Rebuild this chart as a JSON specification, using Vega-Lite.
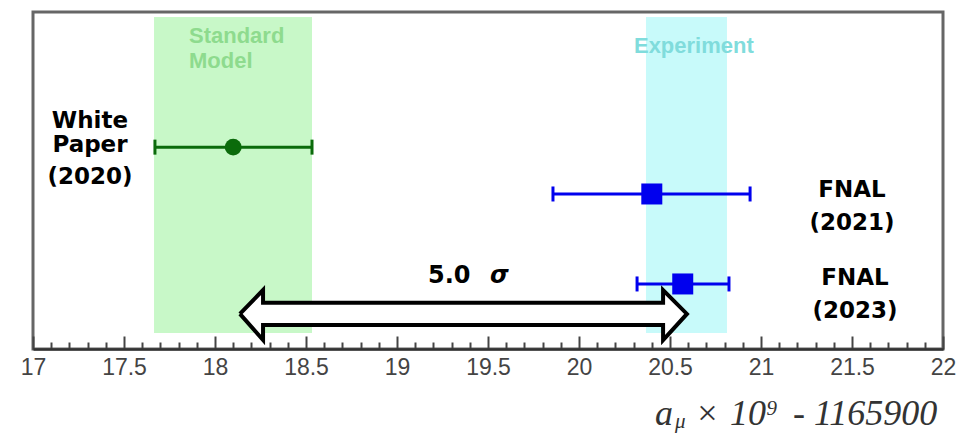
{
  "$schema": "https://vega.github.io/schema/vega-lite/v6.json",
  "width": 910,
  "height": 337,
  "autosize": {"type": "none"},
  "padding": {"left": 33, "top": 12, "right": 18, "bottom": 84},
  "background": "white",
  "config": {
    "view": {"stroke": "#666666", "strokeWidth": 3},
    "axisX": {
      "grid": false,
      "domainColor": "#333333",
      "domainWidth": 2.5,
      "tickColor": "#444444",
      "tickWidth": 2,
      "labelFont": "Liberation Sans",
      "labelFontSize": 23,
      "labelColor": "#444444",
      "labelPadding": 20,
      "labelOverlap": false,
      "labelFlush": false
    }
  },
  "datasets": {
    "bands": [
      {"band": "Standard Model", "x1": 17.665, "x2": 18.533, "y1": 0.475, "y2": 9.85},
      {"band": "Experiment", "x1": 20.368, "x2": 20.813, "y1": 0.475, "y2": 9.85}
    ],
    "bandLabels": [
      {"text": "Standard", "band": "Standard Model", "x": 17.857, "y": 9.07},
      {"text": "Model", "band": "Standard Model", "x": 17.857, "y": 8.35},
      {"text": "Experiment", "band": "Experiment", "x": 20.302, "y": 8.78}
    ],
    "measurements": [
      {"name": "White Paper (2020)", "group": "SM", "value": 18.10, "lo": 17.67, "hi": 18.533, "row": 5.99},
      {"name": "FNAL (2021)", "group": "FNAL", "value": 20.40, "lo": 19.857, "hi": 20.94, "row": 4.6},
      {"name": "FNAL (2023)", "group": "FNAL", "value": 20.57, "lo": 20.319, "hi": 20.824, "row": 1.93}
    ],
    "arrow": [
      {"ord": 1, "x": 18.137, "y": 1.04},
      {"ord": 2, "x": 18.264, "y": 1.75},
      {"ord": 3, "x": 18.264, "y": 1.374},
      {"ord": 4, "x": 20.462, "y": 1.374},
      {"ord": 5, "x": 20.462, "y": 1.75},
      {"ord": 6, "x": 20.593, "y": 1.04},
      {"ord": 7, "x": 20.462, "y": 0.267},
      {"ord": 8, "x": 20.462, "y": 0.712},
      {"ord": 9, "x": 18.264, "y": 0.712},
      {"ord": 10, "x": 18.264, "y": 0.267},
      {"ord": 11, "x": 18.137, "y": 1.04}
    ],
    "rowLabels": [
      {"text": "White", "x": 17.313, "y": 6.558},
      {"text": "Paper", "x": 17.313, "y": 5.846},
      {"text": "(2020)", "x": 17.313, "y": 4.896},
      {"text": "FNAL", "x": 21.5, "y": 4.51},
      {"text": "(2021)", "x": 21.5, "y": 3.531},
      {"text": "FNAL", "x": 21.516, "y": 1.899},
      {"text": "(2023)", "x": 21.516, "y": 0.92}
    ],
    "titleBig": [
      {"text": "a", "x": 20.418, "y": -2.255},
      {"text": "×", "x": 20.637, "y": -2.255},
      {"text": "10", "x": 20.83, "y": -2.255},
      {"text": "- 1165900", "x": 21.176, "y": -2.255}
    ],
    "titleSmall": [
      {"text": "μ", "x": 20.527, "y": -2.33},
      {"text": "9", "x": 21.03, "y": -1.96}
    ]
  },
  "resolve": {"scale": {"color": "independent"}},
  "layer": [
    {
      "data": {"name": "bands"},
      "mark": {"type": "rect"},
      "encoding": {
        "x": {
          "field": "x1", "type": "quantitative",
          "scale": {"domain": [17, 22], "nice": false, "zero": false},
          "axis": {"title": null, "values": [17, 17.1, 17.2, 17.3, 17.4, 17.5, 17.6, 17.7, 17.8, 17.9, 18, 18.1, 18.2, 18.3, 18.4, 18.5, 18.6, 18.7, 18.8, 18.9, 19, 19.1, 19.2, 19.3, 19.4, 19.5, 19.6, 19.7, 19.8, 19.9, 20, 20.1, 20.2, 20.3, 20.4, 20.5, 20.6, 20.7, 20.8, 20.9, 21, 21.1, 21.2, 21.3, 21.4, 21.5, 21.6, 21.7, 21.8, 21.9, 22], "tickSize": {"condition": {"test": "abs(datum.value*2 - round(datum.value*2)) < 0.001", "value": -13}, "value": -7}, "labelExpr": "abs(datum.value*2 - round(datum.value*2)) < 0.001 ? format(datum.value, '~g') : ''"}
        },
        "x2": {"field": "x2"},
        "y": {"field": "y1", "type": "quantitative", "scale": {"domain": [0, 10], "nice": false, "zero": false}, "axis": null},
        "y2": {"field": "y2"},
        "color": {"field": "band", "type": "nominal", "scale": {"domain": ["Standard Model", "Experiment"], "range": ["#c8f8c8", "#c8fafa"]}, "legend": null}
      }
    },
    {
      "data": {"name": "bandLabels"},
      "mark": {"type": "text", "align": "left", "baseline": "alphabetic", "font": "Liberation Sans", "fontWeight": "bold", "fontSize": 22},
      "encoding": {
        "x": {"field": "x", "type": "quantitative", "axis": {"title": null, "values": [17, 17.1, 17.2, 17.3, 17.4, 17.5, 17.6, 17.7, 17.8, 17.9, 18, 18.1, 18.2, 18.3, 18.4, 18.5, 18.6, 18.7, 18.8, 18.9, 19, 19.1, 19.2, 19.3, 19.4, 19.5, 19.6, 19.7, 19.8, 19.9, 20, 20.1, 20.2, 20.3, 20.4, 20.5, 20.6, 20.7, 20.8, 20.9, 21, 21.1, 21.2, 21.3, 21.4, 21.5, 21.6, 21.7, 21.8, 21.9, 22], "tickSize": {"condition": {"test": "abs(datum.value*2 - round(datum.value*2)) < 0.001", "value": -13}, "value": -7}, "labelExpr": "abs(datum.value*2 - round(datum.value*2)) < 0.001 ? format(datum.value, '~g') : ''"}},
        "y": {"field": "y", "type": "quantitative", "axis": null},
        "text": {"field": "text"},
        "color": {"field": "band", "type": "nominal", "scale": {"domain": ["Standard Model", "Experiment"], "range": ["#8edb8e", "#80dcdc"]}, "legend": null}
      }
    },
    {
      "data": {"name": "measurements"},
      "mark": {"type": "rule", "strokeWidth": 3},
      "encoding": {
        "x": {"field": "lo", "type": "quantitative", "axis": {"title": null, "values": [17, 17.1, 17.2, 17.3, 17.4, 17.5, 17.6, 17.7, 17.8, 17.9, 18, 18.1, 18.2, 18.3, 18.4, 18.5, 18.6, 18.7, 18.8, 18.9, 19, 19.1, 19.2, 19.3, 19.4, 19.5, 19.6, 19.7, 19.8, 19.9, 20, 20.1, 20.2, 20.3, 20.4, 20.5, 20.6, 20.7, 20.8, 20.9, 21, 21.1, 21.2, 21.3, 21.4, 21.5, 21.6, 21.7, 21.8, 21.9, 22], "tickSize": {"condition": {"test": "abs(datum.value*2 - round(datum.value*2)) < 0.001", "value": -13}, "value": -7}, "labelExpr": "abs(datum.value*2 - round(datum.value*2)) < 0.001 ? format(datum.value, '~g') : ''"}},
        "x2": {"field": "hi"},
        "y": {"field": "row", "type": "quantitative", "axis": null},
        "color": {"field": "group", "type": "nominal", "scale": {"domain": ["SM", "FNAL"], "range": ["#0b6b0b", "#0000ee"]}, "legend": null}
      }
    },
    {
      "data": {"name": "measurements"},
      "transform": [{"fold": ["lo", "hi"], "as": ["end", "xend"]}],
      "mark": {"type": "tick", "orient": "vertical", "size": 15, "thickness": 3, "opacity": 1},
      "encoding": {
        "x": {"field": "xend", "type": "quantitative", "axis": {"title": null, "values": [17, 17.1, 17.2, 17.3, 17.4, 17.5, 17.6, 17.7, 17.8, 17.9, 18, 18.1, 18.2, 18.3, 18.4, 18.5, 18.6, 18.7, 18.8, 18.9, 19, 19.1, 19.2, 19.3, 19.4, 19.5, 19.6, 19.7, 19.8, 19.9, 20, 20.1, 20.2, 20.3, 20.4, 20.5, 20.6, 20.7, 20.8, 20.9, 21, 21.1, 21.2, 21.3, 21.4, 21.5, 21.6, 21.7, 21.8, 21.9, 22], "tickSize": {"condition": {"test": "abs(datum.value*2 - round(datum.value*2)) < 0.001", "value": -13}, "value": -7}, "labelExpr": "abs(datum.value*2 - round(datum.value*2)) < 0.001 ? format(datum.value, '~g') : ''"}},
        "y": {"field": "row", "type": "quantitative", "axis": null},
        "color": {"field": "group", "type": "nominal", "scale": {"domain": ["SM", "FNAL"], "range": ["#0b6b0b", "#0000ee"]}, "legend": null}
      }
    },
    {
      "data": {"name": "measurements"},
      "mark": {"type": "point", "filled": true, "opacity": 1},
      "encoding": {
        "x": {"field": "value", "type": "quantitative", "axis": {"title": null, "values": [17, 17.1, 17.2, 17.3, 17.4, 17.5, 17.6, 17.7, 17.8, 17.9, 18, 18.1, 18.2, 18.3, 18.4, 18.5, 18.6, 18.7, 18.8, 18.9, 19, 19.1, 19.2, 19.3, 19.4, 19.5, 19.6, 19.7, 19.8, 19.9, 20, 20.1, 20.2, 20.3, 20.4, 20.5, 20.6, 20.7, 20.8, 20.9, 21, 21.1, 21.2, 21.3, 21.4, 21.5, 21.6, 21.7, 21.8, 21.9, 22], "tickSize": {"condition": {"test": "abs(datum.value*2 - round(datum.value*2)) < 0.001", "value": -13}, "value": -7}, "labelExpr": "abs(datum.value*2 - round(datum.value*2)) < 0.001 ? format(datum.value, '~g') : ''"}},
        "y": {"field": "row", "type": "quantitative", "axis": null},
        "color": {"field": "group", "type": "nominal", "scale": {"domain": ["SM", "FNAL"], "range": ["#0b6b0b", "#0000ee"]}, "legend": null},
        "shape": {"field": "group", "type": "nominal", "scale": {"domain": ["SM", "FNAL"], "range": ["circle", "square"]}, "legend": null},
        "size": {"field": "group", "type": "ordinal", "scale": {"domain": ["SM", "FNAL"], "range": [285, 441]}, "legend": null}
      }
    },
    {
      "data": {"name": "arrow"},
      "mark": {"type": "line", "fill": "white", "stroke": "black", "strokeWidth": 4, "strokeJoin": "miter", "strokeMiterLimit": 10},
      "encoding": {
        "x": {"field": "x", "type": "quantitative", "axis": {"title": null, "values": [17, 17.1, 17.2, 17.3, 17.4, 17.5, 17.6, 17.7, 17.8, 17.9, 18, 18.1, 18.2, 18.3, 18.4, 18.5, 18.6, 18.7, 18.8, 18.9, 19, 19.1, 19.2, 19.3, 19.4, 19.5, 19.6, 19.7, 19.8, 19.9, 20, 20.1, 20.2, 20.3, 20.4, 20.5, 20.6, 20.7, 20.8, 20.9, 21, 21.1, 21.2, 21.3, 21.4, 21.5, 21.6, 21.7, 21.8, 21.9, 22], "tickSize": {"condition": {"test": "abs(datum.value*2 - round(datum.value*2)) < 0.001", "value": -13}, "value": -7}, "labelExpr": "abs(datum.value*2 - round(datum.value*2)) < 0.001 ? format(datum.value, '~g') : ''"}},
        "y": {"field": "y", "type": "quantitative", "axis": null},
        "order": {"field": "ord", "type": "quantitative"}
      }
    },
    {
      "data": {"values": [{"text": "5.0", "x": 19.17, "y": 1.958}]},
      "mark": {"type": "text", "align": "left", "baseline": "alphabetic", "font": "DejaVu Sans", "fontWeight": "bold", "fontSize": 24, "color": "black"},
      "encoding": {
        "x": {"field": "x", "type": "quantitative", "axis": {"title": null, "values": [17, 17.1, 17.2, 17.3, 17.4, 17.5, 17.6, 17.7, 17.8, 17.9, 18, 18.1, 18.2, 18.3, 18.4, 18.5, 18.6, 18.7, 18.8, 18.9, 19, 19.1, 19.2, 19.3, 19.4, 19.5, 19.6, 19.7, 19.8, 19.9, 20, 20.1, 20.2, 20.3, 20.4, 20.5, 20.6, 20.7, 20.8, 20.9, 21, 21.1, 21.2, 21.3, 21.4, 21.5, 21.6, 21.7, 21.8, 21.9, 22], "tickSize": {"condition": {"test": "abs(datum.value*2 - round(datum.value*2)) < 0.001", "value": -13}, "value": -7}, "labelExpr": "abs(datum.value*2 - round(datum.value*2)) < 0.001 ? format(datum.value, '~g') : ''"}},
        "y": {"field": "y", "type": "quantitative", "axis": null},
        "text": {"field": "text"}
      }
    },
    {
      "data": {"values": [{"text": "σ", "x": 19.511, "y": 1.958}]},
      "mark": {"type": "text", "align": "left", "baseline": "alphabetic", "font": "DejaVu Sans", "fontWeight": "bold", "fontStyle": "italic", "fontSize": 24, "color": "black"},
      "encoding": {
        "x": {"field": "x", "type": "quantitative", "axis": {"title": null, "values": [17, 17.1, 17.2, 17.3, 17.4, 17.5, 17.6, 17.7, 17.8, 17.9, 18, 18.1, 18.2, 18.3, 18.4, 18.5, 18.6, 18.7, 18.8, 18.9, 19, 19.1, 19.2, 19.3, 19.4, 19.5, 19.6, 19.7, 19.8, 19.9, 20, 20.1, 20.2, 20.3, 20.4, 20.5, 20.6, 20.7, 20.8, 20.9, 21, 21.1, 21.2, 21.3, 21.4, 21.5, 21.6, 21.7, 21.8, 21.9, 22], "tickSize": {"condition": {"test": "abs(datum.value*2 - round(datum.value*2)) < 0.001", "value": -13}, "value": -7}, "labelExpr": "abs(datum.value*2 - round(datum.value*2)) < 0.001 ? format(datum.value, '~g') : ''"}},
        "y": {"field": "y", "type": "quantitative", "axis": null},
        "text": {"field": "text"}
      }
    },
    {
      "data": {"name": "rowLabels"},
      "mark": {"type": "text", "align": "center", "baseline": "alphabetic", "font": "DejaVu Sans", "fontWeight": "bold", "fontSize": 23, "color": "black"},
      "encoding": {
        "x": {"field": "x", "type": "quantitative", "axis": {"title": null, "values": [17, 17.1, 17.2, 17.3, 17.4, 17.5, 17.6, 17.7, 17.8, 17.9, 18, 18.1, 18.2, 18.3, 18.4, 18.5, 18.6, 18.7, 18.8, 18.9, 19, 19.1, 19.2, 19.3, 19.4, 19.5, 19.6, 19.7, 19.8, 19.9, 20, 20.1, 20.2, 20.3, 20.4, 20.5, 20.6, 20.7, 20.8, 20.9, 21, 21.1, 21.2, 21.3, 21.4, 21.5, 21.6, 21.7, 21.8, 21.9, 22], "tickSize": {"condition": {"test": "abs(datum.value*2 - round(datum.value*2)) < 0.001", "value": -13}, "value": -7}, "labelExpr": "abs(datum.value*2 - round(datum.value*2)) < 0.001 ? format(datum.value, '~g') : ''"}},
        "y": {"field": "y", "type": "quantitative", "axis": null},
        "text": {"field": "text"}
      }
    },
    {
      "data": {"name": "titleBig"},
      "mark": {"type": "text", "align": "left", "baseline": "alphabetic", "font": "Liberation Serif", "fontStyle": "italic", "fontSize": 36, "color": "#333333"},
      "encoding": {
        "x": {"field": "x", "type": "quantitative", "axis": {"title": null, "values": [17, 17.1, 17.2, 17.3, 17.4, 17.5, 17.6, 17.7, 17.8, 17.9, 18, 18.1, 18.2, 18.3, 18.4, 18.5, 18.6, 18.7, 18.8, 18.9, 19, 19.1, 19.2, 19.3, 19.4, 19.5, 19.6, 19.7, 19.8, 19.9, 20, 20.1, 20.2, 20.3, 20.4, 20.5, 20.6, 20.7, 20.8, 20.9, 21, 21.1, 21.2, 21.3, 21.4, 21.5, 21.6, 21.7, 21.8, 21.9, 22], "tickSize": {"condition": {"test": "abs(datum.value*2 - round(datum.value*2)) < 0.001", "value": -13}, "value": -7}, "labelExpr": "abs(datum.value*2 - round(datum.value*2)) < 0.001 ? format(datum.value, '~g') : ''"}},
        "y": {"field": "y", "type": "quantitative", "axis": null},
        "text": {"field": "text"}
      }
    },
    {
      "data": {"name": "titleSmall"},
      "mark": {"type": "text", "align": "left", "baseline": "alphabetic", "font": "Liberation Serif", "fontStyle": "italic", "fontSize": 21, "color": "#333333"},
      "encoding": {
        "x": {"field": "x", "type": "quantitative", "axis": {"title": null, "values": [17, 17.1, 17.2, 17.3, 17.4, 17.5, 17.6, 17.7, 17.8, 17.9, 18, 18.1, 18.2, 18.3, 18.4, 18.5, 18.6, 18.7, 18.8, 18.9, 19, 19.1, 19.2, 19.3, 19.4, 19.5, 19.6, 19.7, 19.8, 19.9, 20, 20.1, 20.2, 20.3, 20.4, 20.5, 20.6, 20.7, 20.8, 20.9, 21, 21.1, 21.2, 21.3, 21.4, 21.5, 21.6, 21.7, 21.8, 21.9, 22], "tickSize": {"condition": {"test": "abs(datum.value*2 - round(datum.value*2)) < 0.001", "value": -13}, "value": -7}, "labelExpr": "abs(datum.value*2 - round(datum.value*2)) < 0.001 ? format(datum.value, '~g') : ''"}},
        "y": {"field": "y", "type": "quantitative", "axis": null},
        "text": {"field": "text"}
      }
    }
  ]
}
